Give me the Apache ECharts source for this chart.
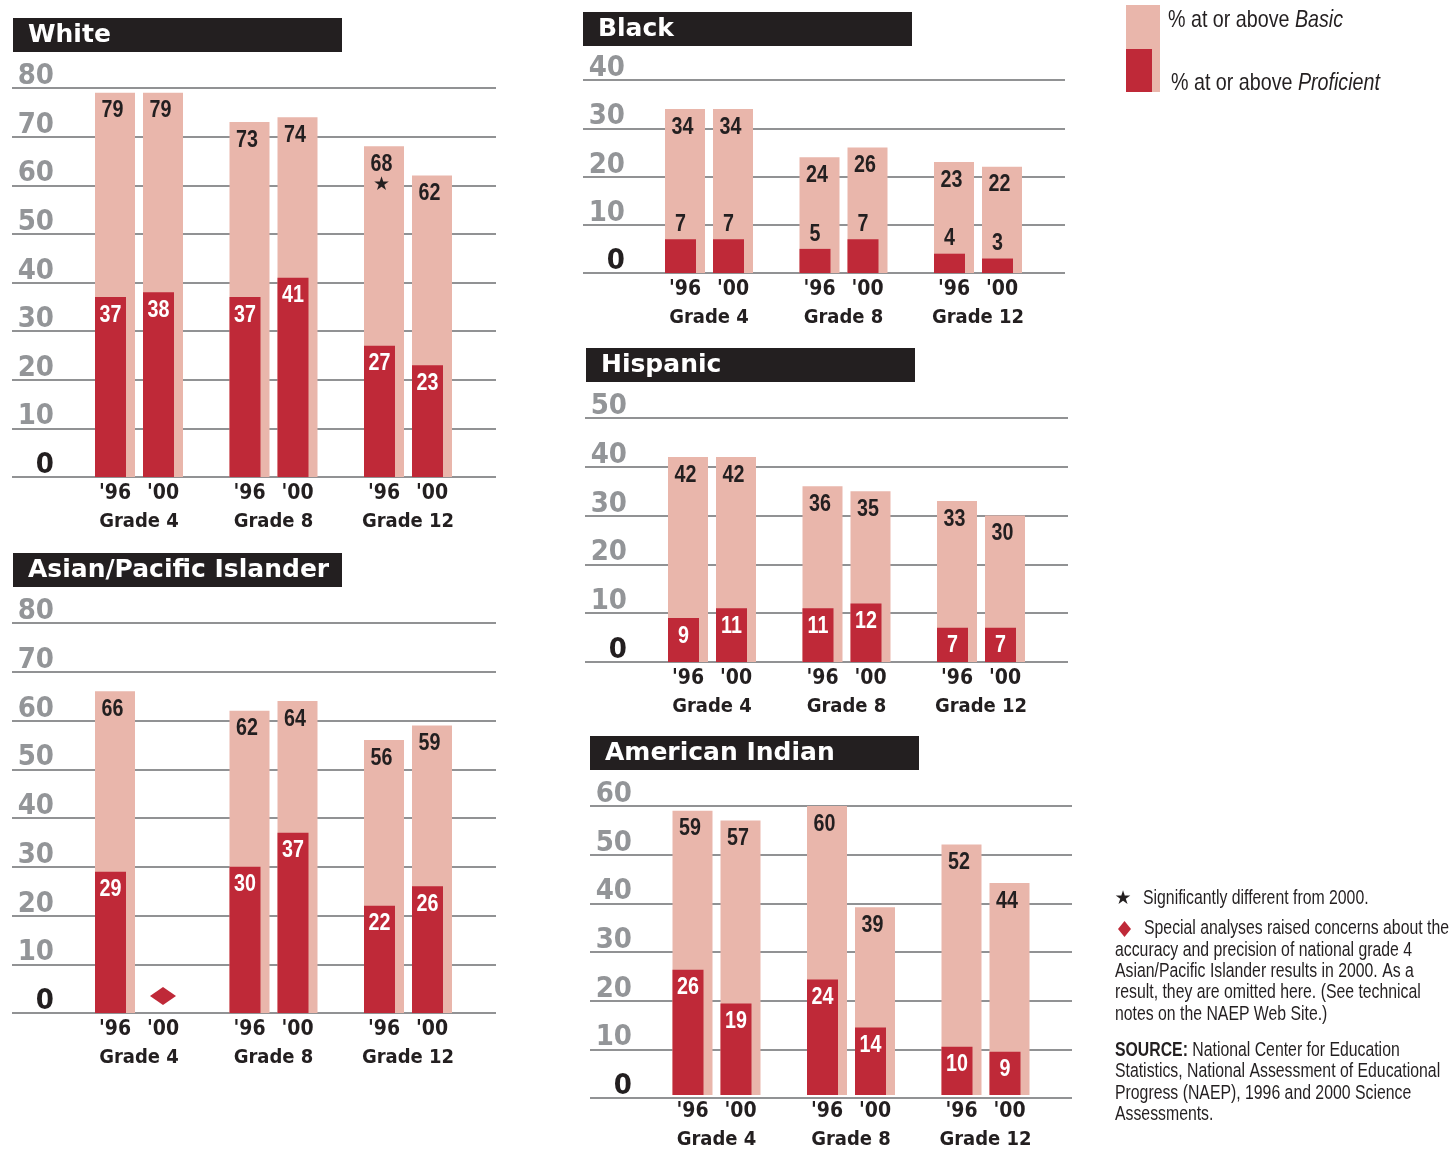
<!DOCTYPE html>
<html>
<head>
<meta charset="utf-8">
<script src="https://cdn.jsdelivr.net/npm/echarts@6/dist/echarts.min.js"></script>
<style>
  html, body { margin: 0; padding: 0; background: #ffffff; }
  #chart { width: 1449px; height: 1150px; }
</style>
</head>
<body>
<div id="chart"></div>
<script>
// ---------------- DATA ----------------
const grades = ['Grade 4', 'Grade 8', 'Grade 12'];
const years = ["'96", "'00"];
// order within each array: G4 '96, G4 '00, G8 '96, G8 '00, G12 '96, G12 '00
const whiteBasic = [79, 79, 73, 74, 68, 62];
const whiteProf  = [37, 38, 37, 41, 27, 23];
const whiteStar  = [0, 0, 0, 0, 1, 0];
const whiteYMax  = 80;

const asianBasic = [66, null, 62, 64, 56, 59];
const asianProf  = [29, null, 30, 37, 22, 26];
const asianStar  = [0, 0, 0, 0, 0, 0];
const asianYMax  = 80;

const blackBasic = [34, 34, 24, 26, 23, 22];
const blackProf  = [7, 7, 5, 7, 4, 3];
const blackStar  = [0, 0, 0, 0, 0, 0];
const blackYMax  = 40;

const hispBasic = [42, 42, 36, 35, 33, 30];
const hispProf  = [9, 11, 11, 12, 7, 7];
const hispStar  = [0, 0, 0, 0, 0, 0];
const hispYMax  = 50;

const amindBasic = [59, 57, 60, 39, 52, 44];
const amindProf  = [26, 19, 24, 14, 10, 9];
const amindStar  = [0, 0, 0, 0, 0, 0];
const amindYMax  = 60;

const legendBasic = '% at or above {i|Basic}';
const legendProf = '% at or above {i|Proficient}';
const noteStar = 'Significantly different from 2000.';
const noteDiamondFirst = 'Special analyses raised concerns about the';
const noteDiamondRest = [
  'accuracy and precision of national grade 4',
  'Asian/Pacific Islander results in 2000. As a',
  'result, they are omitted here. (See technical',
  'notes on the NAEP Web Site.)'
];
const sourceLines = [
  '{b|SOURCE:} National Center for Education',
  'Statistics, National Assessment of Educational',
  'Progress (NAEP), 1996 and 2000 Science',
  'Assessments.'
];

// ---------------- STYLE ----------------
const PINK = '#e9b6ab';
const RED = '#bf2938';
const DARK = '#231f20';
const GRAY = '#939598';
const GRID = '#6d6e71';
const SANS = '"Liberation Sans", Arial, sans-serif';     // drawn with horizontal squeeze
const SQ = 0.82;                                          // narrow squeeze factor
const COND = '"DejaVu Sans Condensed", sans-serif';
const WIDE = '"DejaVu Sans", "Liberation Sans", sans-serif';

const panels = [
  { title: 'White', basic: whiteBasic, prof: whiteProf, star: whiteStar, yMax: whiteYMax,
    gridA: { left: 12, top: 88, width: 484, height: 389 }, bLeft: 71.75,
    bar: { x: 13, y: 18 }, outside: false },
  { title: 'Asian/Pacific Islander', basic: asianBasic, prof: asianProf, star: asianStar, yMax: asianYMax,
    gridA: { left: 12, top: 623, width: 484, height: 390 }, bLeft: 71.75,
    bar: { x: 13, y: 553 }, outside: false },
  { title: 'Black', basic: blackBasic, prof: blackProf, star: blackStar, yMax: blackYMax,
    gridA: { left: 583, top: 80, width: 482, height: 193 }, bLeft: 641.75,
    bar: { x: 583, y: 12 }, outside: true },
  { title: 'Hispanic', basic: hispBasic, prof: hispProf, star: hispStar, yMax: hispYMax,
    gridA: { left: 585, top: 418, width: 483, height: 244 }, bLeft: 644.75,
    bar: { x: 586, y: 348 }, outside: false },
  { title: 'American Indian', basic: amindBasic, prof: amindProf, star: amindStar, yMax: amindYMax,
    gridA: { left: 590, top: 806, width: 482, height: 292 }, bLeft: 649.25,
    bar: { x: 590, y: 736 }, outside: false }
];

function numText(x, y, s, color) {
  return { type: 'text', x: x, y: y, scaleX: SQ,
    style: { text: s, fill: color, font: 'bold 24px ' + SANS, align: 'center', verticalAlign: 'middle' } };
}

function makeRender(outside) {
  return function (params, api) {
    const gi = api.value(0), yr = api.value(1);
    const b = api.value(2), p = api.value(3), st = api.value(4);
    const base = api.coord([gi, 0]);
    const cx = base[0] + (yr === 0 ? -24 : 24);
    const x0 = cx - 20;
    const children = [];
    if (b == null || isNaN(b)) {
      const dy = base[1] - 17;
      children.push({ type: 'polygon', shape: { points: [[cx, dy - 9], [cx + 13, dy], [cx, dy + 9], [cx - 13, dy]] },
        style: { fill: RED } });
      return { type: 'group', children: children };
    }
    const top = api.coord([gi, b])[1];
    const ptop = api.coord([gi, p])[1];
    children.push({ type: 'rect', shape: { x: x0, y: top, width: 40, height: base[1] - top }, style: { fill: PINK } });
    children.push({ type: 'rect', shape: { x: x0, y: ptop, width: 31, height: base[1] - ptop }, style: { fill: RED } });
    children.push(numText(cx - 2.5, top + 18, String(b), DARK));
    if (st) {
      children.push({ type: 'text', x: cx - 2.5, y: top + 39,
        style: { text: '\u2605', fill: DARK, font: '19px ' + WIDE, align: 'center', verticalAlign: 'middle' } });
    }
    if (outside) {
      children.push(numText(x0 + 15.5, ptop - 15, String(p), DARK));
    } else {
      children.push(numText(x0 + 15.5, ptop + 18, String(p), '#ffffff'));
    }
    return { type: 'group', children: children };
  };
}

const grid = [], xAxis = [], yAxis = [], series = [], graphic = [];

panels.forEach(function (pn, i) {
  const gA = pn.gridA;
  grid.push({ left: gA.left, top: gA.top, width: gA.width, height: gA.height });
  grid.push({ left: pn.bLeft, top: gA.top, width: 403.5, height: gA.height });
  const ia = 2 * i, ib = 2 * i + 1;
  xAxis.push({ type: 'value', gridIndex: ia, show: false });
  xAxis.push({
    type: 'category', gridIndex: ib, data: grades,
    axisLine: { show: false }, axisTick: { show: false }, splitLine: { show: false },
    axisLabel: {
      margin: 3, interval: 0,
      formatter: function (v) { return '{y|' + years[0] + '}{y|' + years[1] + '}\n{g|' + v + '}'; },
      rich: {
        y: { width: 48, align: 'center', fontFamily: COND, fontWeight: 'bold', fontSize: 21, color: DARK, lineHeight: 28 },
        g: { fontFamily: COND, fontWeight: 'bold', fontSize: 20, color: DARK, lineHeight: 28 }
      }
    }
  });
  yAxis.push({
    type: 'value', gridIndex: ia, min: 0, max: pn.yMax, interval: 10,
    axisLine: { show: false }, axisTick: { show: false },
    splitLine: { show: true, lineStyle: { color: GRID, width: 1.5 } },
    axisLabel: {
      inside: true, margin: 42, align: 'right', verticalAlign: 'bottom', lineHeight: 23,
      fontFamily: COND, fontWeight: 'bold', fontSize: 29,
      color: function (v) { return Number(v) === 0 ? DARK : GRAY; }
    }
  });
  yAxis.push({ type: 'value', gridIndex: ib, min: 0, max: pn.yMax, show: false, splitLine: { show: false } });

  const data = [];
  for (let k = 0; k < pn.basic.length; k++) {
    const gi = Math.floor(k / 2), yr = k % 2;
    data.push([gi, yr, pn.basic[k] == null ? '-' : pn.basic[k], pn.prof[k] == null ? '-' : pn.prof[k], pn.star[k]]);
  }
  series.push({
    type: 'custom', xAxisIndex: ib, yAxisIndex: ib, clip: false,
    renderItem: makeRender(pn.outside),
    encode: { x: 0, y: [2, 3] },
    data: data,
    silent: true
  });

  graphic.push({ type: 'rect', left: pn.bar.x, top: pn.bar.y, shape: { width: 329, height: 34 }, style: { fill: DARK } });
  graphic.push({ type: 'text', x: pn.bar.x + 15, y: pn.bar.y + 17,
    style: { text: pn.title, fill: '#ffffff', font: 'bold 25px ' + WIDE, verticalAlign: 'middle', align: 'left' } });
});

// legend
graphic.push({ type: 'rect', shape: { x: 1126, y: 5, width: 34, height: 87 }, style: { fill: PINK } });
graphic.push({ type: 'rect', shape: { x: 1126, y: 49, width: 26, height: 43 }, style: { fill: RED } });
graphic.push({ type: 'text', x: 1168, y: 20, scaleX: SQ, style: { text: legendBasic, fill: DARK, font: '24px ' + SANS,
  verticalAlign: 'middle', rich: { i: { font: 'italic 24px ' + SANS, fill: DARK } } } });
graphic.push({ type: 'text', x: 1171, y: 83, scaleX: SQ, style: { text: legendProf, fill: DARK, font: '24px ' + SANS,
  verticalAlign: 'middle', rich: { i: { font: 'italic 24px ' + SANS, fill: DARK } } } });

// notes
const NOTE_FONT = '19.3px ' + SANS;
graphic.push({ type: 'text', x: 1123, y: 899, style: { text: '\u2605', fill: DARK, font: '19px ' + WIDE, align: 'center', verticalAlign: 'middle' } });
graphic.push({ type: 'text', x: 1143, y: 899, scaleX: SQ, style: { text: noteStar, fill: DARK, font: NOTE_FONT, verticalAlign: 'middle' } });
graphic.push({ type: 'polygon', shape: { points: [[1124.5, 921], [1131, 929], [1124.5, 937], [1118, 929]] }, style: { fill: RED } });
graphic.push({ type: 'text', x: 1144, y: 929, scaleX: SQ, style: { text: noteDiamondFirst, fill: DARK, font: NOTE_FONT, verticalAlign: 'middle' } });
graphic.push({ type: 'text', x: 1115, y: 940, scaleX: SQ, style: { text: noteDiamondRest.join('\n'), fill: DARK, font: NOTE_FONT, lineHeight: 21.2, verticalAlign: 'top' } });
graphic.push({ type: 'text', x: 1115, y: 1040, scaleX: SQ, style: { text: sourceLines.join('\n'), fill: DARK, font: NOTE_FONT, lineHeight: 21.3, verticalAlign: 'top',
  rich: { b: { font: 'bold 19.3px ' + SANS, fill: DARK, lineHeight: 21.3 } } } });

const chart = echarts.init(document.getElementById('chart'), null, { renderer: 'canvas' });
chart.setOption({
  backgroundColor: '#ffffff',
  animation: false,
  grid: grid, xAxis: xAxis, yAxis: yAxis, series: series, graphic: graphic
});
</script>
</body>
</html>
